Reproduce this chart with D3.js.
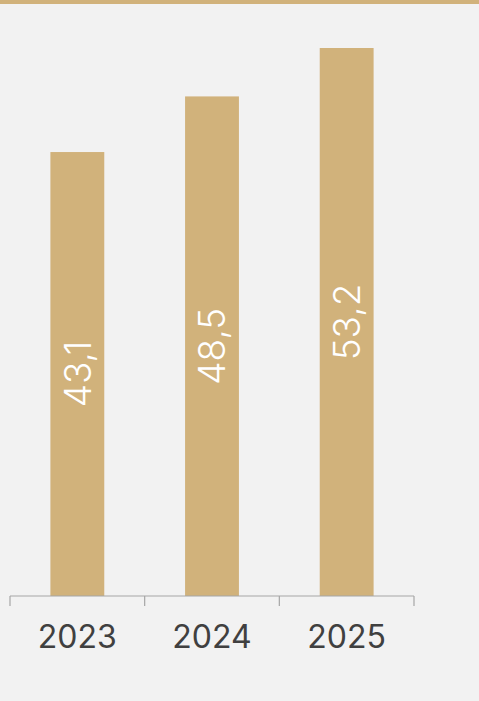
<!DOCTYPE html>
<html>
<head>
<meta charset="utf-8">
<script src="https://cdn.jsdelivr.net/npm/d3@7"></script>
<style>
  html, body { margin: 0; padding: 0; background: #f2f2f2; }
  svg { display: block; }
</style>
</head>
<body>
<script>
const categories = ["2023", "2024", "2025"];
const values = [43.1, 48.5, 53.2];
const valueLabels = ["43,1", "48,5", "53,2"];

const W = 479, H = 701;
const svg = d3.select("body").append("svg").attr("width", W).attr("height", H);

svg.append("rect").attr("x", 0).attr("y", 0).attr("width", W).attr("height", H).attr("fill", "#f2f2f2");
svg.append("rect").attr("x", 0).attr("y", 0).attr("width", W).attr("height", 4).attr("fill", "#d1b27b");

const x = d3.scaleBand().domain(categories).range([10, 414]).paddingInner(0.6).paddingOuter(0.3);
const y = d3.scaleLinear().domain([0, 53.2]).range([596, 48]);
const step = x.step();

svg.selectAll("rect.bar").data(categories).join("rect")
  .attr("class", "bar")
  .attr("x", d => x(d))
  .attr("width", x.bandwidth())
  .attr("y", (d, i) => y(values[i]))
  .attr("height", (d, i) => y(0) - y(values[i]))
  .attr("fill", "#d1b27b");

// axis line
const ax = svg.append("g");
ax.append("line").attr("x1", 10).attr("x2", 414).attr("y1", 596).attr("y2", 596)
  .attr("stroke", "#a6a6a6").attr("stroke-width", 1.2);
const bounds = categories.map(d => x(d) - step * 0.3).concat([x(categories[categories.length - 1]) + x.bandwidth() + step * 0.3]);
ax.selectAll("line.tick").data(bounds).join("line")
  .attr("class", "tick")
  .attr("x1", d => d).attr("x2", d => d)
  .attr("y1", 596).attr("y2", 606)
  .attr("stroke", "#a6a6a6").attr("stroke-width", 1.2);

svg.selectAll("text.cat").data(categories).join("text")
  .attr("class", "cat")
  .attr("x", d => x(d) + x.bandwidth() / 2)
  .attr("y", 648)
  .attr("text-anchor", "middle")
  .attr("font-family", "Inter, 'Open Sans', sans-serif")
  .attr("font-size", 32)
  .attr("fill", "#404040")
  .text(d => d);

svg.selectAll("text.val").data(categories).join("text")
  .attr("class", "val")
  .attr("transform", (d, i) => `translate(${x(d) + x.bandwidth() / 2},${(y(values[i]) + y(0)) / 2}) rotate(-90)`)
  .attr("text-anchor", "middle")
  .attr("dy", "0.36em")
  .attr("font-family", "Inter, 'Open Sans', sans-serif")
  .attr("font-weight", 300)
  .attr("font-size", 37)
  .attr("fill", "#ffffff")
  .text((d, i) => valueLabels[i]);
</script>
</body>
</html>
